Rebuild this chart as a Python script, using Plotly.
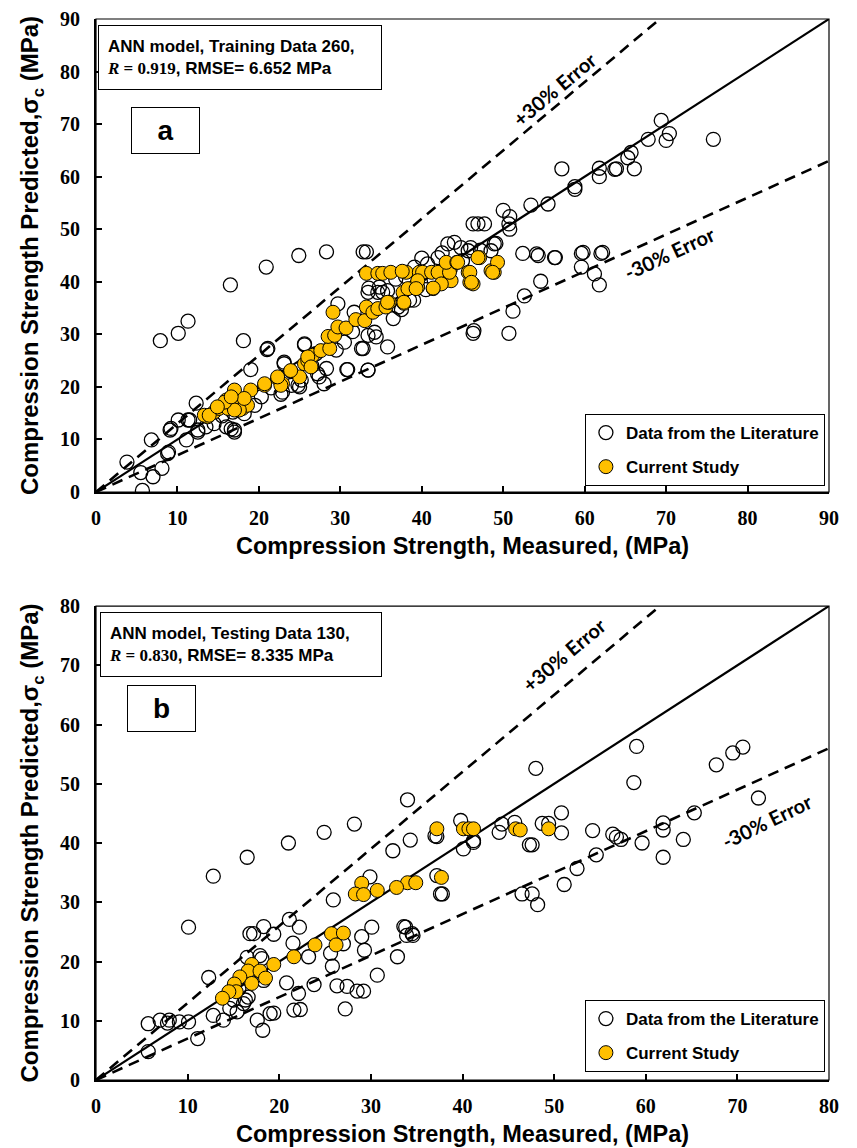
import plotly.graph_objects as go

# ---------------- data: panel (a) training ----------------
lit_a_x = [7.9, 10.1, 11.3, 16.5, 20.9, 24.9, 28.3, 32.8, 33.2, 18.1, 21.0, 19.0, 12.3, 6.8, 3.8, 5.7, 5.5, 7.0, 8.1, 8.9,
           9.1, 10.1, 11.1, 11.5, 12.5, 13.5, 16.6, 17.0, 18.2, 20.3, 22.7, 23.1, 25.6, 25.0, 27.4, 28.3, 30.8, 32.8, 33.4, 34.4,
           35.8, 29.7, 31.7, 33.4, 35.2, 37.5, 46.3, 50.7, 51.2, 52.6, 54.6, 59.6, 61.2, 61.8, 56.3, 59.6, 62.0, 52.4, 54.1,
           69.4, 70.4, 70.0, 67.8, 75.8, 65.7, 65.3, 66.1, 63.9, 63.7, 61.8, 61.8, 57.2, 58.8, 58.8, 55.5, 53.4, 50.0, 50.8,
           50.7, 50.8, 49.1, 47.7, 46.9, 46.3, 54.3, 56.4, 59.8, 62.2, 46.4, 44.0, 43.2, 44.8, 45.7, 48.5, 48.9, 42.0, 40.7,
           39.1, 34.6, 35.8, 37.1, 34.2, 33.4, 30.5, 32.6, 25.6, 21.1, 23.1, 30.9, 33.4, 22.9, 27.2, 28.0, 24.0, 27.0, 18.0,
           25.2, 24.8, 16.0, 8.8, 9.2, 11.3, 12.5, 17.0, 14.5, 15.5, 16.8, 19.5, 21.5, 26.5, 29.5, 31.5, 36.5, 38.5, 40.5,
           41.5, 43.5, 42.5, 45.0, 36.8, 38.0, 40.0, 46.0, 47.2, 33.5, 34.8, 39.0]
lit_a_y = [28.8, 30.2, 32.5, 39.4, 42.8, 45.0, 45.7, 45.7, 45.7, 28.8, 27.1, 23.3, 16.9, 9.9, 5.7, 0.3, 3.7, 2.9, 4.5, 7.6,
           11.8, 13.7, 9.9, 13.7, 11.4, 12.4, 12.0, 11.8, 14.9, 18.1, 18.6, 24.7, 28.0, 20.0, 21.9, 23.5, 23.3, 27.3, 23.2, 29.5,
           27.6, 35.8, 34.2, 38.0, 38.0, 34.7, 30.2, 30.2, 34.4, 37.3, 40.1, 42.8, 41.5, 39.4, 44.6, 45.4, 45.4, 45.4, 45.3,
           70.7, 68.2, 66.9, 67.1, 67.1, 64.6, 63.6, 61.5, 61.5, 61.4, 61.6, 60.0, 61.5, 58.1, 57.6, 54.8, 54.6, 53.6, 52.4,
           51.0, 50.0, 47.3, 51.0, 51.0, 51.0, 45.0, 44.6, 45.6, 45.6, 30.7, 47.5, 47.2, 46.5, 45.9, 45.9, 47.2, 44.6, 43.4,
           42.8, 38.0, 38.3, 35.2, 30.4, 29.8, 28.5, 27.3, 28.2, 27.3, 24.4, 23.3, 23.2, 19.0, 22.5, 20.6, 20.3, 26.3, 17.5,
           21.3, 20.3, 12.4, 7.3, 12.1, 13.7, 11.8, 11.4, 13.0, 14.5, 15.2, 16.5, 19.8, 24.0, 27.0, 30.5, 33.0, 36.5, 38.5,
           40.5, 42.5, 45.5, 44.0, 40.5, 41.0, 44.5, 46.5, 46.0, 38.8, 39.0, 36.5]

cur_a_x = [13.7, 13.3, 14.5, 15.1, 15.6, 16.0, 16.6, 17.0, 17.4, 18.0, 18.6, 19.0, 17.6, 16.2, 20.7, 22.3, 22.9, 23.9, 25.0,
           25.6, 26.0, 26.6, 26.0, 26.4, 27.6, 28.7, 28.5, 29.3, 29.7, 30.7, 31.9, 33.0, 33.2, 34.0, 34.6, 35.6, 29.1, 36.0,
           37.8, 37.7, 38.3, 39.5, 41.4, 42.6, 43.6, 33.2, 34.6, 35.2, 36.2, 38.1, 39.7, 40.1, 41.2, 42.0, 43.4, 43.0, 44.3,
           45.7, 45.9, 46.3, 47.1, 48.5, 48.9, 49.3, 39.5, 22.7, 20.7, 22.3, 23.9, 17.0, 13.9, 15.8, 14.9, 18.2, 16.6, 44.4,
           45.9, 46.1, 42.4, 41.4, 39.3, 37.8, 35.8, 46.9, 48.7, 37.6]
cur_a_y = [14.3, 14.6, 15.2, 15.9, 16.5, 17.5, 17.8, 19.4, 17.1, 15.9, 16.5, 19.4, 15.6, 15.9, 20.3, 21.6, 20.6, 23.0, 21.9,
           24.4, 25.0, 26.0, 25.7, 23.8, 26.9, 27.3, 29.6, 29.8, 31.4, 31.2, 32.8, 32.6, 35.2, 34.2, 34.9, 35.2, 34.2, 36.1,
           35.9, 38.0, 38.7, 39.0, 38.7, 39.9, 40.2, 41.6, 41.6, 41.6, 41.8, 41.8, 41.8, 41.8, 41.8, 41.8, 41.8, 43.7, 43.7,
           41.8, 39.9, 39.6, 44.6, 42.1, 41.8, 43.7, 40.2, 20.3, 20.6, 21.9, 23.1, 15.6, 14.6, 17.1, 16.2, 17.8, 18.1, 43.7,
           41.8, 39.9, 39.6, 38.8, 38.7, 36.1, 36.1, 44.6, 41.8, 42.0]

# ---------------- data: panel (b) testing ----------------
lit_b_x = [34.0, 28.2, 24.9, 21.0, 39.8, 34.3, 37.2, 32.4, 16.5, 12.8, 10.1, 40.1, 41.2, 37.2, 37.8, 29.9, 25.9, 21.1, 22.2,
           18.3, 17.2, 16.8, 19.4, 21.5, 16.5, 17.9, 18.1, 23.2, 25.6, 25.8, 27.0, 29.0, 30.1, 29.3, 33.6, 33.9, 34.6, 32.9,
           30.7, 27.4, 26.3, 28.5, 29.2, 27.2, 23.8, 22.1, 20.8, 21.6, 22.3, 19.0, 19.4, 17.6, 18.2, 15.4, 14.6, 13.9, 12.8,
           12.3, 10.1, 9.1, 8.0, 7.8, 7.0, 5.7, 11.1, 5.7, 16.3, 16.1, 16.6, 15.0, 18.1, 18.3, 15.6,
           59.0, 58.7, 70.6, 69.5, 67.7, 72.3, 65.3, 64.1, 61.9, 61.9, 61.9, 59.6, 57.3, 56.8, 56.4, 54.6, 54.2, 52.5, 51.1,
           50.8, 50.8, 49.4, 48.7, 47.6, 47.3, 48.0, 46.5, 47.6, 48.2, 45.7, 44.0, 44.3, 41.2, 37.0, 37.6, 33.8, 34.5]
lit_b_y = [47.3, 43.2, 41.8, 40.0, 43.8, 40.5, 41.1, 38.7, 37.6, 34.4, 25.8, 39.0, 40.1, 34.5, 31.4, 34.3, 30.4, 27.1, 25.8,
           25.9, 24.7, 24.7, 24.6, 23.1, 20.7, 21.0, 20.5, 20.8, 21.4, 19.2, 23.0, 24.2, 25.8, 21.9, 25.9, 24.4, 24.4, 20.8,
           17.7, 15.8, 15.9, 15.0, 15.0, 12.0, 16.1, 14.6, 16.4, 11.8, 11.9, 11.2, 11.3, 10.1, 8.4, 11.5, 12.1, 10.1, 10.9,
           17.3, 9.8, 9.8, 10.1, 9.6, 10.1, 9.5, 7.0, 4.8, 13.5, 12.9, 14.0, 13.5, 17.7, 16.8, 15.4,
           56.3, 50.2, 56.2, 55.2, 53.2, 47.6, 45.1, 40.6, 43.4, 42.2, 37.6, 40.0, 40.6, 41.0, 41.5, 38.0, 42.1, 35.7, 33.0,
           45.1, 41.7, 43.3, 43.3, 39.7, 39.7, 52.6, 31.4, 31.4, 29.6, 43.5, 41.8, 43.2, 40.4, 41.2, 31.4, 25.8, 24.7]

cur_b_x = [37.2, 40.1, 40.7, 41.2, 45.8, 46.3, 49.4, 37.7, 34.0, 34.9, 29.0, 28.3, 29.2, 30.7, 32.8, 25.7, 27.0, 26.2, 23.9,
           21.6, 19.4, 17.0, 16.6, 17.9, 18.5, 15.7, 17.0, 15.1, 15.3, 14.5, 13.8]
cur_b_y = [42.4, 42.4, 42.4, 42.4, 42.4, 42.2, 42.4, 34.2, 33.3, 33.3, 33.2, 31.4, 31.3, 32.0, 32.5, 24.7, 24.8, 22.8, 22.8,
           20.8, 19.5, 19.5, 18.4, 18.4, 17.2, 17.4, 16.3, 16.2, 14.9, 14.9, 13.8]

axis_max = [90, 80]
ticks_a = list(range(0, 91, 10))
ticks_b = list(range(0, 81, 10))
ratios = [1.0, 1.3, 0.7]

fig = go.Figure()

GOLD = "#FFC000"
for k, (lx, ly, cx, cy, xa, ya, lg) in enumerate([
        (lit_a_x, lit_a_y, cur_a_x, cur_a_y, "x", "y", "legend"),
        (lit_b_x, lit_b_y, cur_b_x, cur_b_y, "x2", "y2", "legend2")]):
    m = axis_max[k]
    fig.add_trace(go.Scatter(x=lx, y=ly, mode="markers", name="Data from the Literature",
                             marker=dict(symbol="circle-open", size=14, color="black", line=dict(width=1.3)),
                             xaxis=xa, yaxis=ya, legend=lg, legendgroup="lit%d" % k))
    for r in ratios:
        xe = m if r <= 1 else m / r
        fig.add_trace(go.Scatter(x=[0, xe], y=[0, r * xe], mode="lines", showlegend=False,
                                 line=dict(color="black", width=2.2 if r == 1 else 2.6,
                                           dash="solid" if r == 1 else "11px,7px"),
                                 xaxis=xa, yaxis=ya, hoverinfo="skip"))
    fig.add_trace(go.Scatter(x=cx, y=cy, mode="markers", name="Current Study",
                             marker=dict(symbol="circle", size=14, color=GOLD, line=dict(width=1, color="black")),
                             xaxis=xa, yaxis=ya, legend=lg, legendgroup="cur%d" % k))

tickfont = dict(family="Liberation Serif", size=20, color="black")
xtitlefont = dict(family="Liberation Sans", size=23.5, color="black", weight=700)
ytitlefont = dict(family="Liberation Sans", size=24, color="black", weight=700)
xtitle = "Compression Strength, Measured, (MPa)"
ytitle = "Compression Strength Predicted,σ<sub>c</sub> (MPa)"

def bold(vals):
    return ["<b>%d</b>" % v for v in vals]

def xax(anchor, rng, tv):
    return dict(range=rng, tickvals=tv, ticktext=bold(tv), ticks="inside", ticklen=6, tickwidth=1.5, tickcolor="black",
                showline=True, linewidth=2.2, linecolor="black", showgrid=False, zeroline=False,
                tickfont=tickfont, ticklabelstandoff=7, anchor=anchor, automargin=False,
                title=dict(text=xtitle, font=xtitlefont, standoff=9))

def yax(anchor, domain, rng, tv):
    return dict(range=rng, tickvals=tv, ticktext=bold(tv), ticks="inside", ticklen=6, tickwidth=1.5, tickcolor="black",
                showline=True, linewidth=2.2, linecolor="black", showgrid=False, zeroline=False,
                tickfont=tickfont, ticklabelstandoff=10, domain=domain, anchor=anchor, automargin=False,
                title=dict(text=ytitle, font=ytitlefont, standoff=14))

fig.update_layout(
    width=857, height=1148, margin=dict(l=96, r=28, t=19, b=68),
    paper_bgcolor="white", plot_bgcolor="white",
    xaxis=xax("y", [0, 90], ticks_a), yaxis=yax("x", [0.5542, 1.0], [0, 90], ticks_a),
    xaxis2=xax("y2", [0, 80], ticks_b), yaxis2=yax("x2", [0.0, 0.4467], [0, 80], ticks_b),
    showlegend=True,
)

legfont = dict(family="Liberation Sans", size=17, color="black", weight=700)
common_leg = dict(xref="paper", yref="paper", xanchor="left", yanchor="top", bordercolor="black", borderwidth=1,
                  bgcolor="white", font=legfont, traceorder="grouped", tracegroupgap=9, itemwidth=30)
fig.update_layout(legend=dict(x=0.667, y=0.6277, **common_leg),
                  legend2=dict(x=0.667, y=0.0754, **common_leg))

# frame top/right
for xr, yr in [("x domain", "y domain"), ("x2 domain", "y2 domain")]:
    fig.add_shape(type="rect", xref=xr, yref=yr, x0=0, x1=1, y0=0, y1=1, line=dict(color="black", width=1.2),
                  layer="above")

boxfont = dict(family="Liberation Sans", size=17, color="black")
def info(model, n, r, rmse):
    return ("<b>ANN model, %s Data %d,</b><br>" % (model, n) +
            "<span style='font-family:Liberation Serif'><b><i>R</i> = %s</b></span><b>, RMSE= %s MPa</b>" % (r, rmse))

fig.add_annotation(xref="paper", yref="paper", x=0.0027, y=0.9943, xanchor="left", yanchor="top", align="left",
                   text=info("Training", 260, "0.919", "6.652"), showarrow=False, font=boxfont,
                   bordercolor="black", borderwidth=1, borderpad=8, bgcolor="white", width=266, height=47)
fig.add_annotation(xref="paper", yref="paper", x=0.0055, y=0.4411, xanchor="left", yanchor="top", align="left",
                   text=info("Testing", 130, "0.830", "8.335"), showarrow=False, font=boxfont,
                   bordercolor="black", borderwidth=1, borderpad=8, bgcolor="white", width=264, height=47)
for lbl, xx, yy in [("a", 0.0477, 0.917), ("b", 0.0423, 0.3723)]:
    fig.add_annotation(xref="paper", yref="paper", x=xx, y=yy, xanchor="left", yanchor="top", align="center",
                       text="<b>%s</b>" % lbl, showarrow=False,
                       font=dict(family="Liberation Sans", size=28, color="black"),
                       bordercolor="black", borderwidth=1, borderpad=0, bgcolor="white", width=67, height=45)

errfont = dict(family="Lato", size=20, color="black", weight=700)
for xr, yr, x, y, ang, t in [("x", "y", 56.3, 76.6, -40, "+30% Error"), ("x", "y", 70.4, 45.4, -25, "-30% Error"),
                             ("x2", "y2", 51.0, 71.8, -40, "+30% Error"), ("x2", "y2", 73.2, 43.8, -26, "-30% Error")]:
    fig.add_annotation(xref=xr, yref=yr, x=x, y=y, text=t, showarrow=False, textangle=ang, font=errfont)

fig.write_html("out.html")
